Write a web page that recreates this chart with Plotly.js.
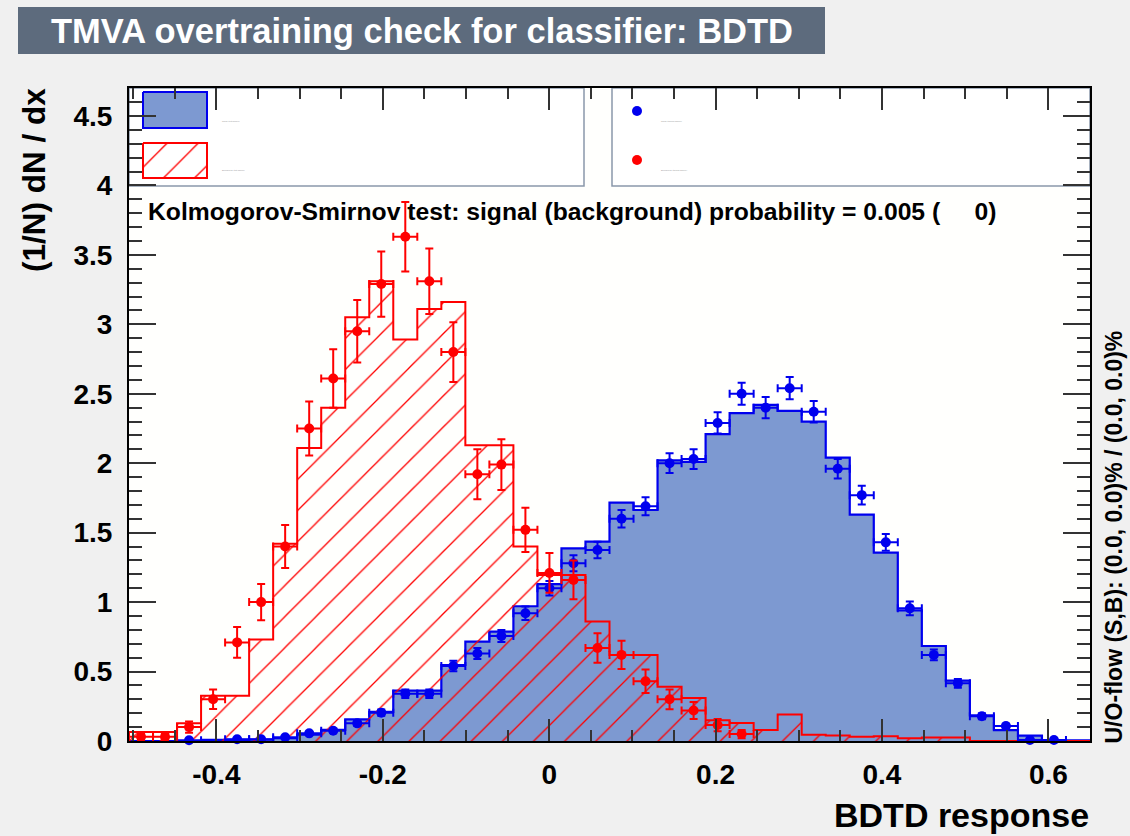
<!DOCTYPE html>
<html><head><meta charset="utf-8">
<script src="https://cdn.plot.ly/plotly-3.0.1.min.js"></script>
<style>html,body{margin:0;padding:0;background:#f0f0f0;} #chart{width:1130px;height:836px;}</style>
</head><body><div id="chart"></div>
<script>
// ---------- data ----------
const xMin = -0.505, xMax = 0.65, nBins = 40;
const sigTest = [0, 0, 0, 0.008, 0.008, 0.01, 0.02, 0.045, 0.08, 0.156,
  0.21, 0.362, 0.362, 0.547, 0.715, 0.787, 0.97, 1.13, 1.387, 1.435,
  1.716, 1.663, 2.02, 2.01, 2.21, 2.36, 2.42, 2.376, 2.30, 2.04,
  1.63, 1.356, 0.94, 0.684, 0.435, 0.185, 0.079, 0.038, 0.006, 0.005];
const bkgTest = [0.065, 0.065, 0.127, 0.326, 0.326, 0.73, 1.42, 2.11, 2.40, 3.05,
  3.31, 2.89, 3.11, 3.16, 2.13, 2.13, 1.40, 1.195, 1.195, 0.86,
  0.62, 0.62, 0.39, 0.31, 0.15, 0.13, 0.08, 0.19, 0.045, 0.04,
  0.03, 0.035, 0.02, 0.025, 0.025, 0, 0, 0, 0, 0];
const sigTrain = [0, 0, 0.005, 0, 0.012, 0.012, 0.027, 0.055, 0.074, 0.127,
  0.204, 0.34, 0.34, 0.54, 0.63, 0.756, 0.92, 1.10, 1.28, 1.375,
  1.60, 1.69, 2.00, 2.03, 2.29, 2.50, 2.40, 2.54, 2.37, 1.96,
  1.77, 1.43, 0.955, 0.62, 0.415, 0.178, 0.108, 0.007, 0.007, 0];
const sigTrainErr = [0, 0, 0.004, 0, 0.006, 0.006, 0.008, 0.012, 0.014, 0.018,
  0.023, 0.03, 0.03, 0.037, 0.04, 0.044, 0.048, 0.052, 0.057, 0.059,
  0.063, 0.065, 0.071, 0.071, 0.076, 0.079, 0.077, 0.08, 0.077, 0.07,
  0.067, 0.06, 0.049, 0.039, 0.032, 0.021, 0.016, 0.004, 0.004, 0];
const bkgTrain = [0.03, 0.03, 0.10, 0.30, 0.71, 1.00, 1.40, 2.25, 2.61, 2.95,
  3.29, 3.63, 3.31, 2.80, 1.92, 1.99, 1.52, 1.21, 1.16, 0.67,
  0.62, 0.43, 0.30, 0.22, 0.115, 0.05, 0, 0, 0, 0,
  0, 0, 0, 0, 0, 0, 0, 0, 0, 0];
const bkgTrainErr = [0.022, 0.022, 0.04, 0.07, 0.11, 0.13, 0.155, 0.195, 0.21, 0.225,
  0.235, 0.25, 0.235, 0.215, 0.18, 0.183, 0.16, 0.143, 0.14, 0.106,
  0.102, 0.085, 0.071, 0.061, 0.044, 0.03, 0, 0, 0, 0,
  0, 0, 0, 0, 0, 0, 0, 0, 0, 0];
const xTickVals = [-0.4, -0.2, 0, 0.2, 0.4, 0.6];
const xTickText = ['-0.4', '-0.2', '0', '0.2', '0.4', '0.6'];
const yTickVals = [0, 0.5, 1, 1.5, 2, 2.5, 3, 3.5, 4, 4.5];
const yTickText = ['0', '0.5', '1', '1.5', '2', '2.5', '3', '3.5', '4', '4.5'];
const legendLabels = ['Signal (test sample)', 'Background (test sample)',
  'Signal (training sample)', 'Background (training sample)'];
const titleText = 'TMVA overtraining check for classifier: BDTD';
const xTitle = 'BDTD response';
const yTitle = '(1/N) dN / dx';
const ksText = 'Kolmogorov-Smirnov test: signal (background) probability = 0.005 (\u00a0\u00a0\u00a0\u00a0\u00a00)';
const uoText = 'U/O-flow (S,B): (0.0, 0.0)% / (0.0, 0.0)%';

// ---------- derived ----------
const binW = (xMax - xMin) / nBins;
const edges = Array.from({length: nBins + 1}, (_, i) => xMin + i * binW);
const centers = Array.from({length: nBins}, (_, i) => xMin + (i + 0.5) * binW);
const stepY = v => v.concat([v[v.length - 1]]);
const nz = (v) => v.map(a => a > 0 ? a : null);

// ---------- styles / layout geometry (pixels) ----------
const FONT = '"Liberation Sans", Arial, Helvetica, sans-serif';
const W = 1130, H = 836;
const PL = 129, PR = 1090, PT = 88, PB = 741;
const px2x = p => (p - PL) / (PR - PL);
const py2y = p => (PB - p) / (PB - PT);
const BLUE = '#0000ee', BLUEFILL = '#7d99d1', RED = '#ff0000';

const traces = [
  { type: 'scatter', x: edges, y: stepY(sigTest), mode: 'lines', line: {shape: 'hv', color: BLUE, width: 2.2},
    fill: 'tozeroy', fillcolor: BLUEFILL, name: legendLabels[0], showlegend: false, hoverinfo: 'skip' },
  { type: 'scatter', x: edges, y: stepY(bkgTest), mode: 'lines', line: {shape: 'hv', color: RED, width: 2},
    fill: 'tozeroy', fillcolor: 'rgba(0,0,0,0)',
    fillpattern: {shape: '/', fgcolor: RED, bgcolor: 'rgba(0,0,0,0)', size: 22, solidity: 0.06},
    name: legendLabels[1], showlegend: false, hoverinfo: 'skip' },
  { type: 'scatter', x: centers, y: nz(sigTrain), mode: 'markers', cliponaxis: false,
    marker: {color: BLUE, size: 10},
    error_y: {type: 'data', array: sigTrainErr, color: BLUE, thickness: 2, width: 4},
    error_x: {type: 'constant', value: binW / 2, color: BLUE, thickness: 2, width: 4},
    name: legendLabels[2], showlegend: false },
  { type: 'scatter', x: centers, y: nz(bkgTrain), mode: 'markers', cliponaxis: false,
    marker: {color: RED, size: 10},
    error_y: {type: 'data', array: bkgTrainErr, color: RED, thickness: 2, width: 4},
    error_x: {type: 'constant', value: binW / 2, color: RED, thickness: 2, width: 4},
    name: legendLabels[3], showlegend: false },
  // legend swatches on pixel overlay axes
  { type: 'scatter', xaxis: 'x2', yaxis: 'y2', x: [143, 207, 207, 143, 143], y: [92, 92, 128, 128, 92],
    mode: 'lines', line: {color: BLUE, width: 2}, fill: 'toself', fillcolor: BLUEFILL, showlegend: false, hoverinfo: 'skip' },
  { type: 'scatter', xaxis: 'x2', yaxis: 'y2', x: [143, 207, 207, 143, 143], y: [143, 143, 178, 178, 143],
    mode: 'lines', line: {color: RED, width: 2}, fill: 'toself', fillcolor: 'rgba(0,0,0,0)',
    fillpattern: {shape: '/', fgcolor: RED, bgcolor: 'rgba(0,0,0,0)', size: 22, solidity: 0.06},
    showlegend: false, hoverinfo: 'skip' },
  { type: 'scatter', xaxis: 'x2', yaxis: 'y2', x: [637], y: [111], mode: 'markers',
    marker: {color: BLUE, size: 10}, showlegend: false, hoverinfo: 'skip' },
  { type: 'scatter', xaxis: 'x2', yaxis: 'y2', x: [637], y: [160], mode: 'markers',
    marker: {color: RED, size: 10}, showlegend: false, hoverinfo: 'skip' }
];

const axisCommon = {
  showline: true, linecolor: '#000', linewidth: 2, mirror: 'allticks',
  ticks: 'inside', tickwidth: 2, tickcolor: '#333', showgrid: false, zeroline: false,
  tickfont: {family: FONT, size: 28, color: '#000', weight: 'bold'}
};

const layout = {
  width: W, height: H,
  paper_bgcolor: '#f0f0f0', plot_bgcolor: '#fffffd',
  margin: {l: PL, r: W - PR, t: PT, b: H - PB, pad: 0},
  showlegend: false,
  title: {text: titleText, font: {family: FONT, size: 34.5, color: '#ffffff', weight: 'bold'},
    x: 422 / W, xanchor: 'center', xref: 'container', y: 1 - 31 / H, yanchor: 'middle', yref: 'container'},
  xaxis: Object.assign({}, axisCommon, {range: [xMin, xMax], tickmode: 'array', tickvals: xTickVals, ticktext: xTickText,
    ticklen: 22, ticklabelstandoff: 7,
    minor: {tickmode: 'linear', tick0: 0, dtick: 0.05, ticklen: 11, tickwidth: 2, tickcolor: '#333', ticks: 'inside'}}),
  yaxis: Object.assign({}, axisCommon, {range: [0, (PB - PT) / 138.9], tickmode: 'array', tickvals: yTickVals, ticktext: yTickText,
    ticklen: 27, ticklabelstandoff: 9,
    minor: {tickmode: 'linear', tick0: 0, dtick: 0.1, ticklen: 13, tickwidth: 2, tickcolor: '#333', ticks: 'inside'}}),
  xaxis2: {overlaying: 'x', range: [PL, PR], visible: false, fixedrange: true},
  yaxis2: {overlaying: 'y', range: [PB, PT], visible: false, fixedrange: true},
  shapes: [
    {type: 'rect', xref: 'paper', yref: 'paper', x0: px2x(18), x1: px2x(825), y0: py2y(54), y1: py2y(7),
      fillcolor: '#5d6b7d', line: {width: 0}, layer: 'below'},
    {type: 'rect', xref: 'paper', yref: 'paper', x0: px2x(129), x1: px2x(584), y0: py2y(186), y1: py2y(88),
      fillcolor: '#ffffff', line: {color: '#8a98aa', width: 1.5}, layer: 'below'},
    {type: 'rect', xref: 'paper', yref: 'paper', x0: px2x(612), x1: px2x(1090), y0: py2y(186), y1: py2y(88),
      fillcolor: '#ffffff', line: {color: '#8a98aa', width: 1.5}, layer: 'below'}
  ],
  annotations: [
    {text: xTitle, xref: 'paper', yref: 'paper', x: px2x(1091), y: py2y(815), xanchor: 'right', yanchor: 'middle',
      showarrow: false, font: {family: FONT, size: 34, color: '#000', weight: 'bold'}},
    {text: yTitle, xref: 'paper', yref: 'paper', x: px2x(34), y: py2y(86), xanchor: 'center', yanchor: 'top',
      textangle: -90, showarrow: false, font: {family: FONT, size: 31.5, color: '#000', weight: 'bold'}},
    {text: ksText, xref: 'paper', yref: 'paper', x: px2x(146), y: py2y(212), xanchor: 'left', yanchor: 'middle',
      showarrow: false, font: {family: FONT, size: 24.7, color: '#000', weight: 'bold'}},
    {text: uoText, xref: 'paper', yref: 'paper', x: px2x(1113), y: py2y(746), xanchor: 'center', yanchor: 'bottom',
      textangle: -90, showarrow: false, font: {family: FONT, size: 23, color: '#000', weight: 'bold'}},
    {text: legendLabels[0], xref: 'paper', yref: 'paper', x: px2x(220), y: py2y(121), xanchor: 'left', yanchor: 'middle',
      showarrow: false, font: {family: FONT, size: 2, color: '#999'}},
    {text: legendLabels[1], xref: 'paper', yref: 'paper', x: px2x(220), y: py2y(170), xanchor: 'left', yanchor: 'middle',
      showarrow: false, font: {family: FONT, size: 2, color: '#999'}},
    {text: legendLabels[2], xref: 'paper', yref: 'paper', x: px2x(659), y: py2y(121), xanchor: 'left', yanchor: 'middle',
      showarrow: false, font: {family: FONT, size: 2, color: '#999'}},
    {text: legendLabels[3], xref: 'paper', yref: 'paper', x: px2x(659), y: py2y(170), xanchor: 'left', yanchor: 'middle',
      showarrow: false, font: {family: FONT, size: 2, color: '#999'}}
  ]
};

Plotly.newPlot('chart', traces, layout, {displayModeBar: false, staticPlot: true});
</script>
</body></html>
